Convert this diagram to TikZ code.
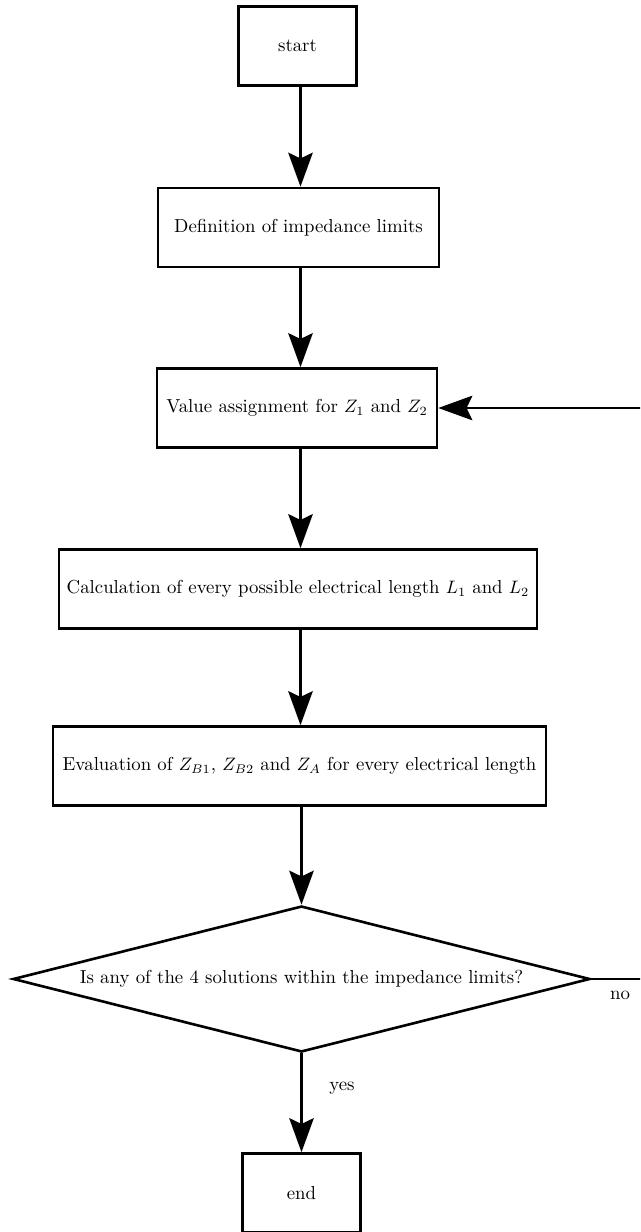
\documentclass[tikz,border=0pt]{standalone}
\usetikzlibrary{arrows.meta,shapes.geometric}
\begin{document}
\begin{tikzpicture}[x=0.5556pt,y=-0.5556pt,
  font=\fontsize{10.45}{12.5}\selectfont,
  lw/.style={line width=1.45pt},
  box/.style={draw,lw,rectangle,inner sep=0pt,minimum height=79*0.5556pt,align=center},
  flow/.style={lw,-{Stealth[length=18.9pt,width=13.6pt,inset=3.2pt]}},
  lbl/.style={inner sep=0pt}]
\useasboundingbox (0,0) rectangle (640,1232);
\clip (0,0) rectangle (640,1232);
\node[box,minimum width=118*0.5556pt] (start) at (297.5,46) {start};
\node[box,minimum width=281*0.5556pt] (def) at (298.5,227.5) {Definition of impedance limits};
\node[box,minimum width=280*0.5556pt] (val) at (297,408) {Value assignment for $Z_1$ and $Z_2$};
\node[box,minimum width=478*0.5556pt] (calc) at (298,589) {Calculation of every possible electrical length $L_1$ and $L_2$};
\node[box,minimum width=493*0.5556pt] (eval) at (299.5,766) {Evaluation of $Z_{B1}$, $Z_{B2}$ and $Z_A$ for every electrical length};
\node[draw,lw,diamond,aspect=3.95,inner sep=0pt,minimum width=577*0.5556pt,minimum height=146*0.5556pt] (dec) at (301.5,979) {Is any of the 4 solutions within the impedance limits?};
\node[box,minimum width=118*0.5556pt] (end) at (301.5,1193) {end};
\coordinate (ax) at (300.5,0);
\coordinate (loop) at (680,979);
\draw[flow] (start.south -| ax) -- (def.north -| ax);
\draw[flow] (def.south -| ax) -- (val.north -| ax);
\draw[flow] (val.south -| ax) -- (calc.north -| ax);
\draw[flow] (calc.south -| ax) -- (eval.north -| ax);
\draw[flow] (eval.south -| dec.north) -- (dec.north);
\draw[flow] (dec.south) -- (dec.south |- end.north);
\draw[flow] (dec.east) -- (loop) |- (val.east);
\node[lbl] (no) at (620,995) {no};
\node[lbl] (yes) at (342,1088) {yes};
\end{tikzpicture}
\end{document}
